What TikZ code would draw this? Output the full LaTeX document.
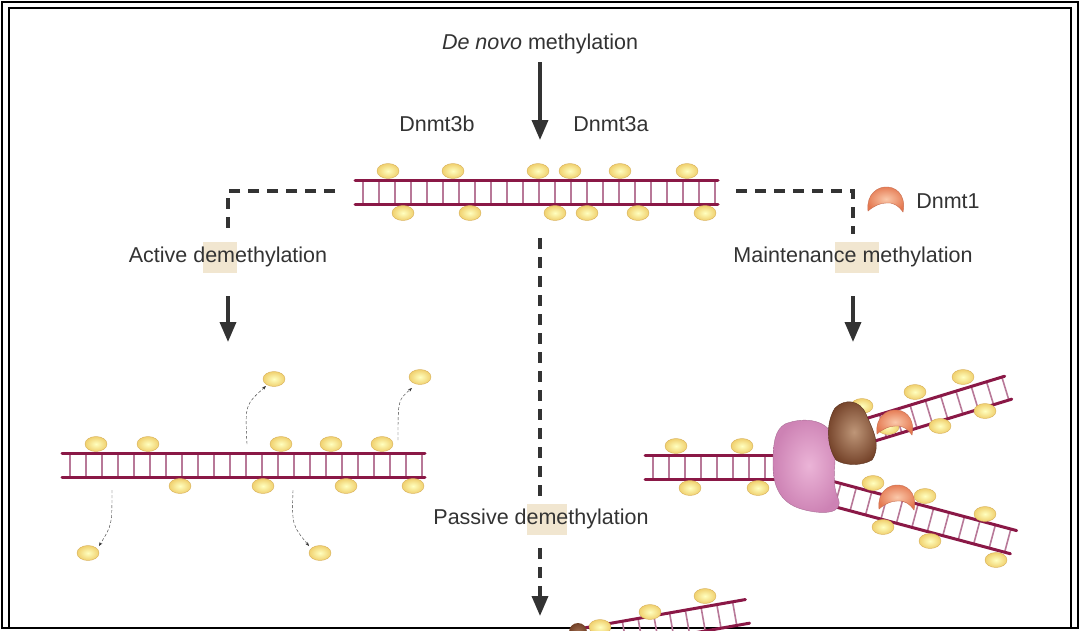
\documentclass[tikz,border=0pt]{standalone}
\usepackage{fontspec}
\setmainfont{Liberation Sans}
\usetikzlibrary{arrows.meta,shapes.geometric}
\definecolor{strand}{HTML}{8A1846}
\definecolor{rung}{HTML}{B87898}
\definecolor{ink}{HTML}{333333}
\definecolor{hl}{HTML}{F1E6D0}
\tikzset{
  lab/.style={text=ink,font=\fontsize{21.5}{24}\selectfont,inner sep=0pt},
  dashln/.style={ink,line width=3.5pt,dash pattern=on 11pt off 8pt},
  tip/.style={-{Triangle[width=16pt,length=20pt]}},
  solidarrow/.style={ink,line width=3.5pt,tip},
  curv/.style={ink,thin,dash pattern=on 3pt off 2pt,-{Stealth[length=4pt]}},
}
\newcommand\ladder[4]{%
  \begin{scope}[shift={(#1,#2)},rotate=#4]
    \foreach \i in {8,24,...,#3}{\draw[rung,line width=1.6pt] (\i,-12)--(\i,12);}
    \draw[strand,line width=3pt,line cap=round] (0,-12)--(#3,-12);
    \draw[strand,line width=3pt,line cap=round] (0,12)--(#3,12);
  \end{scope}}
\newcommand\bead[1]{\shade[inner color=yellow!25!white,outer color={rgb,255:red,240;green,208;blue,110},draw={rgb,255:red,215;green,175;blue,90},thin] #1 ellipse[x radius=11pt,y radius=7.5pt];}
\newcommand\cres[2]{\shade[shift={(#1,#2)},inner color={rgb,255:red,250;green,200;blue,170},outer color={rgb,255:red,228;green,120;blue,80},draw={rgb,255:red,200;green,110;blue,80},thin]
  (-18,9) .. controls (-20,-8) and (-8,-16) .. (2,-15) .. controls (14,-14) and (20,-2) .. (17,10)
  .. controls (12,3) and (6,0) .. (0,1) .. controls (-6,1) and (-12,4) .. (-18,9) -- cycle;}
\begin{document}
\begin{tikzpicture}[x=1pt,y=-1pt]
\useasboundingbox (0,0) rectangle (1080,630);
\fill[white] (0,0) rectangle (1080,630);
\draw[black,line width=2pt] (2,2) rectangle (1078,628);
\draw[black,line width=1.5pt] (9,8) rectangle (1071,628);
% highlights
\fill[hl] (203,242) rectangle (237,273);
\fill[hl] (835,242) rectangle (879,273);
\fill[hl] (527,504) rectangle (567,535);
% top
\node[lab] (denovo) at (540,44) {\textit{De novo} methylation};
\coordinate (ta) at (540,62); \coordinate (tb) at (540,140);
\draw[solidarrow] (ta)--(tb);
\node[lab] (d3b) at (437,124) {Dnmt3b};
\node[lab] (d3a) at (611,124) {Dnmt3a};
% main DNA
\ladder{355}{192}{363}{0}
\foreach \x in {388,453,538,570,620,687}{\bead{(\x,171)}}
\foreach \x in {403,470,555,587,638,705}{\bead{(\x,213)}}
% left path
\coordinate (l0) at (335,191); \coordinate (l1) at (228,191); \coordinate (l2) at (228,234);
\draw[dashln] (l0)--(l1)--(l2);
\node[lab] (act) at (228,257) {Active demethylation};
\coordinate (l3) at (228,296); \coordinate (l4) at (228,342);
\draw[solidarrow] (l3)--(l4);
% right path
\coordinate (r0) at (736,191); \coordinate (r1) at (853,191); \coordinate (r2) at (853,234);
\draw[dashln] (r0)--(r1)--(r2);
\cres{886}{202}
\node[lab] (d1) at (948,201) {Dnmt1};
\node[lab] (mai) at (853,257) {Maintenance methylation};
\coordinate (r3) at (853,296); \coordinate (r4) at (853,342);
\draw[solidarrow] (r3)--(r4);
% middle path
\coordinate (m0) at (540,238); \coordinate (m1) at (540,497);
\draw[dashln] (m0)--(m1);
\node[lab] (pas) at (541,519) {Passive demethylation};
\coordinate (m2) at (540,548); \coordinate (m3) at (540,616); \coordinate (mm) at (540,588);
\draw[dashln] (m2)--(mm);
\draw[solidarrow] (mm)--(m3);
% left DNA
\ladder{62}{465}{363}{0}
\foreach \x in {96,148,281,331,382}{\bead{(\x,444)}}
\foreach \x in {180,263,346,413}{\bead{(\x,486)}}
\bead{(274,379)}\bead{(420,377)}\bead{(88,553)}\bead{(320,553)}
\coordinate (c1a) at (247,444); \coordinate (c1b) at (266,386);
\coordinate (c2a) at (398,440); \coordinate (c2b) at (412,388);
\coordinate (c3a) at (112,490); \coordinate (c3b) at (99,546);
\coordinate (c4a) at (293,490); \coordinate (c4b) at (309,546);
\draw[curv] (c1a) .. controls (245,405) .. (c1b);
\draw[curv] (c2a) .. controls (398,400) .. (c2b);
\draw[curv] (c3a) .. controls (112,525) .. (c3b);
\draw[curv] (c4a) .. controls (292,525) .. (c4b);
% right fork
\ladder{645}{467}{135}{0}
\bead{(676,446)}\bead{(742,446)}\bead{(690,488)}\bead{(758,488)}
\ladder{860}{433}{155}{17}
\ladder{830}{493}{190}{-15}
\foreach \p in {(862,406),(915,392),(963,377),(888,427),(940,426),(985,411)}{\bead{\p}}
\foreach \p in {(873,483),(925,496),(985,514),(883,527),(930,541),(996,560)}{\bead{\p}}
\shade[inner color={rgb,255:red,235;green,180;blue,215},outer color={rgb,255:red,205;green,130;blue,180},draw={rgb,255:red,170;green,110;blue,150},thin]
  (785,424) .. controls (805,416) and (830,420) .. (834,440) .. controls (838,460) and (830,480) .. (838,498)
  .. controls (845,515) and (820,514) .. (805,510) .. controls (783,505) and (773,490) .. (773,465)
  .. controls (773,442) and (775,430) .. (785,424) -- cycle;
\shade[inner color={rgb,255:red,190;green,150;blue,120},outer color={rgb,255:red,115;green,65;blue,40},draw={rgb,255:red,90;green,50;blue,30},thin]
  (835,408) .. controls (845,398) and (860,400) .. (866,414) .. controls (872,428) and (882,445) .. (872,460)
  .. controls (862,466) and (845,466) .. (836,460) .. controls (826,445) and (826,422) .. (835,408) -- cycle;
\cres{895}{425}
\cres{897}{500}
% bottom partial
\ladder{585}{640}{165}{10}
\bead{(600,627)}\bead{(650,612)}\bead{(705,596)}
\shade[inner color={rgb,255:red,160;green,110;blue,80},outer color={rgb,255:red,115;green,65;blue,40}] (578,632) circle[radius=9pt];
\end{tikzpicture}
\end{document}
